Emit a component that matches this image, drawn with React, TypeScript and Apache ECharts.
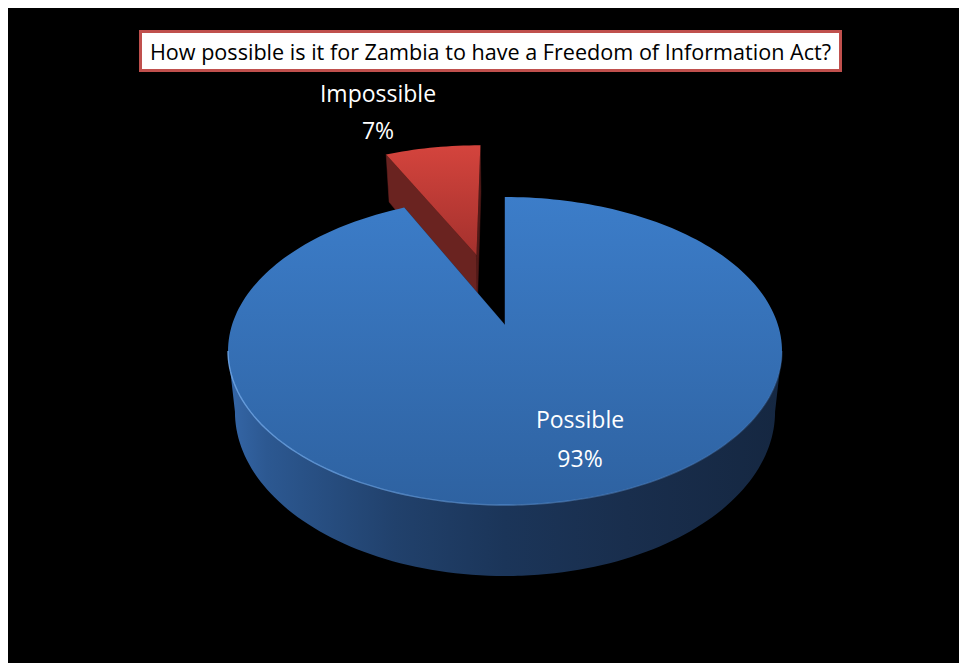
import React, { useEffect, useRef } from "react";
import * as echarts from "echarts";

// ---- data ----
const categories = ["Possible", "Impossible"];
const values = [93, 7];
const percentLabels = ["93%", "7%"];
const explodeAmount = [0, 0.52];
const titleText = "How possible is it for Zambia to have a Freedom of Information Act?";

// ---- layout / style ----
const CX = 497;
const CY = 317;
const RX = 273;
const RY = 149.6;
const K = 0.169; // perspective strength
const H = 59; // thickness
const SBX = 0.975; // bottom rim x shrink
const FONT = "'Open Sans', 'DejaVu Sans', sans-serif";

const topGradients = [
  [
    { offset: 0, color: "#3C7DC9" },
    { offset: 1, color: "#2E62A1" },
  ],
  [
    { offset: 0, color: "#D4443D" },
    { offset: 1, color: "#A4312D" },
  ],
];
const sideStops = [
  { offset: 0, color: "#3567A8" },
  { offset: 0.07, color: "#2C5891" },
  { offset: 0.3, color: "#21416C" },
  { offset: 0.5, color: "#1B3559" },
  { offset: 0.72, color: "#192E4D" },
  { offset: 1, color: "#152741" },
];
const radialColors = [
  ["#1E3A63", "#1E3A63"],
  ["#6A2320", "#521A18"],
];

const DEG = Math.PI / 180;

function proj(X: number, Z: number, bottom: boolean): number[] {
  const w = 1 + K * Z;
  const sx = (bottom ? SBX : 1) * RX * (X / w);
  const sy = -RY * (Z / w) + (bottom ? H / w : 0);
  return [CX + sx, CY + sy];
}

function rimPoint(a: number, ox: number, oz: number, bottom: boolean) {
  return proj(Math.cos(a * DEG) + ox, Math.sin(a * DEG) + oz, bottom);
}

function arcPoints(a0: number, a1: number, ox: number, oz: number, bottom: boolean) {
  const pts: number[][] = [];
  const n = Math.max(2, Math.ceil(Math.abs(a1 - a0) / 1.5));
  for (let s = 0; s <= n; s++) {
    const a = a0 + ((a1 - a0) * s) / n;
    pts.push(rimPoint(a, ox, oz, bottom));
  }
  return pts;
}

function renderItem(params: any) {
  const i = params.dataIndex;
  const total = values.reduce((a, b) => a + b, 0);
  let cum = 0;
  for (let j = 0; j < i; j++) cum += values[j];
  const start = 90 - (cum / total) * 360;
  const end = start - (values[i] / total) * 360;
  const a0 = end;
  const a1 = start;
  const mid = (a0 + a1) / 2;
  const e = explodeAmount[i];
  const ox = e * Math.cos(mid * DEG);
  const oz = e * Math.sin(mid * DEG);
  const baseZ = i === 0 ? 10 : 0;

  const children: any[] = [];

  // radial faces
  [a1, a0].forEach((a, idx) => {
    const pts = [
      proj(ox, oz, false),
      rimPoint(a, ox, oz, false),
      rimPoint(a, ox, oz, true),
      proj(ox, oz, true),
    ];
    children.push({
      type: "polygon",
      z2: baseZ + 1,
      shape: { points: pts },
      style: { fill: radialColors[i][idx], stroke: radialColors[i][idx], lineWidth: 0.5 },
    });
  });

  // outer curved side (front visible part)
  const asinK = Math.asin(K) / DEG;
  const fLo = 180 + asinK;
  const fHi = 360 - asinK;
  for (let n = -2; n <= 1; n++) {
    const lo = Math.max(a0, fLo + 360 * n);
    const hi = Math.min(a1, fHi + 360 * n);
    if (lo < hi) {
      const topPts = arcPoints(lo, hi, ox, oz, false);
      const botPts = arcPoints(lo, hi, ox, oz, true).reverse();
      children.push({
        type: "polygon",
        z2: baseZ + 2,
        shape: { points: topPts.concat(botPts) },
        style: {
          fill: new echarts.graphic.LinearGradient(0, 0, 1, 0, sideStops),
        },
      });
      children.push({
        type: "polyline",
        z2: baseZ + 4,
        shape: { points: topPts },
        style: {
          fill: null,
          stroke: new echarts.graphic.LinearGradient(0, 0, 1, 0, [
            { offset: 0, color: "rgba(110,165,230,0.9)" },
            { offset: 0.5, color: "rgba(95,150,215,0.6)" },
            { offset: 1, color: "rgba(80,130,195,0.3)" },
          ]),
          lineWidth: 1.4,
        },
      });
    }
  }

  // top face
  const topPts = [proj(ox, oz, false)].concat(arcPoints(a0, a1, ox, oz, false));
  children.push({
    type: "polygon",
    z2: baseZ + 3,
    shape: { points: topPts },
    style: {
      fill: new echarts.graphic.LinearGradient(0, 0, 0, 1, topGradients[i]),
    },
  });

  return { type: "group", children };
}

function label(text: string, x: number, y: number, size: number, color: string) {
  return {
    type: "text",
    x,
    y,
    z: 100,
    style: {
      text,
      fill: color,
      font: `${size}px ${FONT}`,
      align: "center",
      verticalAlign: "middle",
    },
  };
}

export default function App() {
  const ref = useRef<HTMLDivElement>(null);
  useEffect(() => {
    if (!ref.current) return;
    const chart = echarts.init(ref.current, undefined, { renderer: "svg" });
    chart.setOption({
      animation: false,
      backgroundColor: "#000000",
      series: [
        {
          type: "custom",
          coordinateSystem: "none",
          renderItem,
          data: categories.map((c, idx) => ({ name: c, value: values[idx] })),
          silent: true,
          z: 2,
        },
      ],
      graphic: [
        {
          type: "rect",
          z: 100,
          shape: { x: 132.5, y: 23.5, width: 700, height: 39 },
          style: { fill: "#FFFFFF", stroke: "#C0504D", lineWidth: 3 },
        },
        label(titleText, 482.5, 43, 21.6, "#000000"),
        label(categories[1], 370, 85, 23, "#FFFFFF"),
        label(percentLabels[1], 370, 122, 23, "#FFFFFF"),
        label(categories[0], 572, 411, 23, "#FFFFFF"),
        label(percentLabels[0], 572, 450, 23, "#FFFFFF"),
      ],
    });
    return () => chart.dispose();
  }, []);
  return (
    <div
      ref={ref}
      style={{
        position: "fixed",
        left: 8,
        top: 8,
        width: 951,
        height: 655,
        background: "#000000",
      }}
    />
  );
}
